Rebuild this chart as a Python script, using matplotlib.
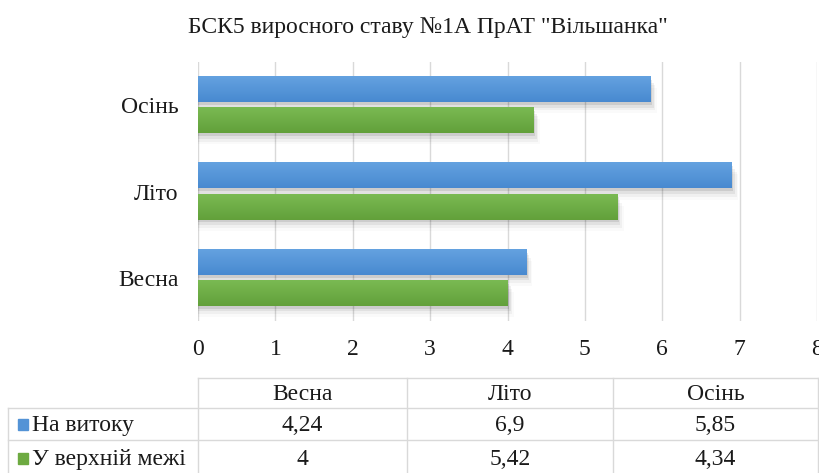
import matplotlib.pyplot as plt
import matplotlib.colors as mcolors
import numpy as np

plt.rcParams['font.family'] = ['Liberation Serif', 'DejaVu Serif']

title = 'БСК5 виросного ставу №1А ПрАТ "Вільшанка"'
seasons = ['Весна', 'Літо', 'Осінь']
series_names = ['На витоку', 'У верхній межі']
na_vytoku = [4.24, 6.9, 5.85]
verkhnii = [4, 5.42, 4.34]
labels_blue = ['4,24', '6,9', '5,85']
labels_green = ['4', '5,42', '4,34']
colors = ['#5393d6', '#6daa41']
grads = [('#64a2e0', '#4889d0'), ('#7aba53', '#62a03a')]

W, H = 819, 473
fig = plt.figure(figsize=(W / 100, H / 100), dpi=100)

# chart area
ax = fig.add_axes([198 / W, 1 - 321 / H, 619 / W, 259 / H])
y = np.arange(len(seasons))
b1 = ax.barh(y + 0.18, na_vytoku, height=0.29, color=colors[0], zorder=3)
b2 = ax.barh(y - 0.18, verkhnii, height=0.29, color=colors[1], zorder=3)

# gradient fill + soft shadow, like the office chart
for bars, (c_top, c_bot) in zip([b1, b2], grads):
    cmap = mcolors.LinearSegmentedColormap.from_list('g', [c_bot, c_top])
    grad = np.linspace(0, 1, 50).reshape(-1, 1)
    for b in bars:
        x0, y0, w, h = b.get_x(), b.get_y(), b.get_width(), b.get_height()
        for k, a in enumerate([0.09, 0.06, 0.04, 0.02]):
            d = 0.02 * (k + 1)
            ax.add_patch(plt.Rectangle((x0, y0 - d * 1.6), w + d, h, color='k', alpha=a,
                                       lw=0, zorder=2))
        ax.imshow(grad, extent=(x0, x0 + w, y0, y0 + h), origin='lower', cmap=cmap,
                  aspect='auto', zorder=4)
        b.set_visible(False)

ax.set_xlim(0, 8)
ax.set_ylim(-0.5, 2.5)
ax.set_aspect('auto')
ax.set_xticks(range(0, 9))
ax.set_yticks(y)
ax.set_yticklabels(seasons)
ax.tick_params(length=0, labelsize=17, colors='#1a1a1a')
ax.tick_params(axis='x', pad=13)
ax.tick_params(axis='y', pad=14)
ax.grid(axis='x', color='#d9d9d9', lw=1, zorder=0)
for s in ax.spines.values():
    s.set_visible(False)

fig.text(428 / W, 1 - 27 / H, title, ha='center', va='center', fontsize=17, color='#1a1a1a')

# data table under the chart
tab = fig.add_axes([0, 0, 1, 1], zorder=-1)
tab.set_xlim(0, W)
tab.set_ylim(H, 0)
tab.axis('off')
lc = '#d9d9d9'
col_x = [198, 407, 613, 818]
row_y = [378, 408, 440, 473]
tab.plot([198, 818], [378, 378], color=lc, lw=1)
for yy in row_y[1:3]:
    tab.plot([8, 818], [yy, yy], color=lc, lw=1)
for xx in col_x:
    tab.plot([xx, xx], [378, 473], color=lc, lw=1)
tab.plot([8, 8], [408, 473], color=lc, lw=1)

centers = [(col_x[i] + col_x[i + 1]) / 2 for i in range(3)]
for i, s in enumerate(seasons):
    tab.text(centers[i], 394, s, ha='center', va='center', fontsize=17, color='#1a1a1a')
rows = [labels_blue, labels_green]
row_c = [425, 459]
for r in range(2):
    tab.add_patch(plt.Rectangle((18, row_c[r] - 6), 10, 11, color=colors[r]))
    tab.text(32, row_c[r], series_names[r], ha='left', va='center', fontsize=17, color='#1a1a1a')
    for i in range(3):
        tab.text(centers[i], row_c[r], rows[r][i], ha='center', va='center', fontsize=17, color='#1a1a1a')

fig.savefig('out.png', dpi=100)
